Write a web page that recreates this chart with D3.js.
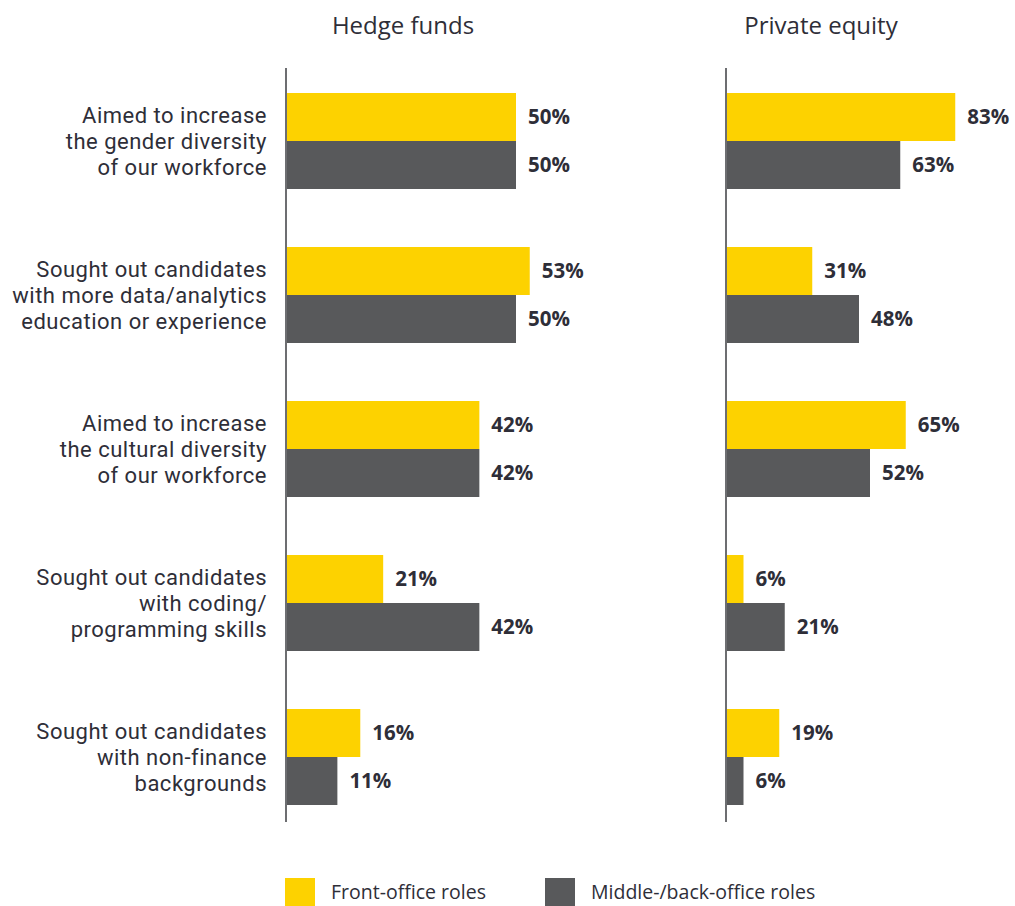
<!DOCTYPE html>
<html><head><meta charset="utf-8">
<script src="https://cdnjs.cloudflare.com/ajax/libs/d3/7.8.5/d3.min.js"></script>
<style>body{margin:0;background:#fff}svg{display:block}</style>
</head><body>
<svg id="c" width="1015" height="906"></svg>
<script>
const categories = [
  ["Aimed to increase","the gender diversity","of our workforce"],
  ["Sought out candidates","with more data/analytics","education or experience"],
  ["Aimed to increase","the cultural diversity","of our workforce"],
  ["Sought out candidates","with coding/","programming skills"],
  ["Sought out candidates","with non-finance","backgrounds"]
];
const panels = ["Hedge funds","Private equity"];
const seriesNames = ["Front-office roles","Middle-/back-office roles"];
const hedgeFront = [50,53,42,21,16];
const hedgeBack  = [50,50,42,42,11];
const peFront    = [83,31,65,6,19];
const peBack     = [63,48,52,21,6];

const colors = ["#FDD200","#58595B"];
const textCol = "#2e2e38";
const font = "'Open Sans', Roboto, sans-serif";
const labelFont = "Roboto, 'Open Sans', sans-serif";

const svg = d3.select("#c");
const y = d3.scaleBand().domain(d3.range(categories.length)).range([64,834]);
const barH = 48;

const panelDefs = [
  {title:panels[0], x0:287, scale:d3.scaleLinear().domain([0,100]).range([0,458]), data:[hedgeFront,hedgeBack], titleX:403},
  {title:panels[1], x0:727, scale:d3.scaleLinear().domain([0,100]).range([0,275]), data:[peFront,peBack], titleX:821}
];

panelDefs.forEach(p=>{
  const g = svg.append("g");
  g.append("text").attr("x",p.titleX).attr("y",25).attr("dy","0.36em").attr("text-anchor","middle")
    .attr("font-family",font).attr("font-size",24).attr("fill",textCol).text(p.title);
  p.data.forEach((vals,si)=>{
    vals.forEach((v,i)=>{
      const cy = y(i)+y.bandwidth()/2;
      const top = cy - barH + si*barH;
      g.append("rect").attr("x",p.x0).attr("y",top).attr("width",p.scale(v)).attr("height",barH).attr("fill",colors[si]);
      g.append("text").attr("x",p.x0+p.scale(v)+12).attr("y",top+barH/2).attr("dy","0.36em")
        .attr("font-family",font).attr("font-weight","bold").attr("font-size",20.5).attr("fill",textCol).text(v+"%");
    });
  });
  g.append("line").attr("x1",p.x0-1).attr("x2",p.x0-1).attr("y1",68).attr("y2",822)
    .attr("stroke","#6d6e71").attr("stroke-width",2);
});

categories.forEach((lines,i)=>{
  const cy = y(i)+y.bandwidth()/2;
  lines.forEach((l,j)=>{
    svg.append("text").attr("text-anchor","end").attr("font-family",labelFont).attr("font-size",22)
      .attr("letter-spacing","0.5px").attr("fill",textCol)
      .attr("x",267).attr("y",cy+(j-1)*26).attr("dy","0.36em").text(l);
  });
});

const leg = [{x:285},{x:545}];
seriesNames.forEach((n,i)=>{
  svg.append("rect").attr("x",leg[i].x).attr("y",878).attr("width",30).attr("height",28).attr("fill",colors[i]);
  svg.append("text").attr("x",leg[i].x+46).attr("y",892).attr("dy","0.36em").attr("font-family",font)
    .attr("font-size",19.5).attr("fill",textCol).text(n);
});
</script>
</body></html>
